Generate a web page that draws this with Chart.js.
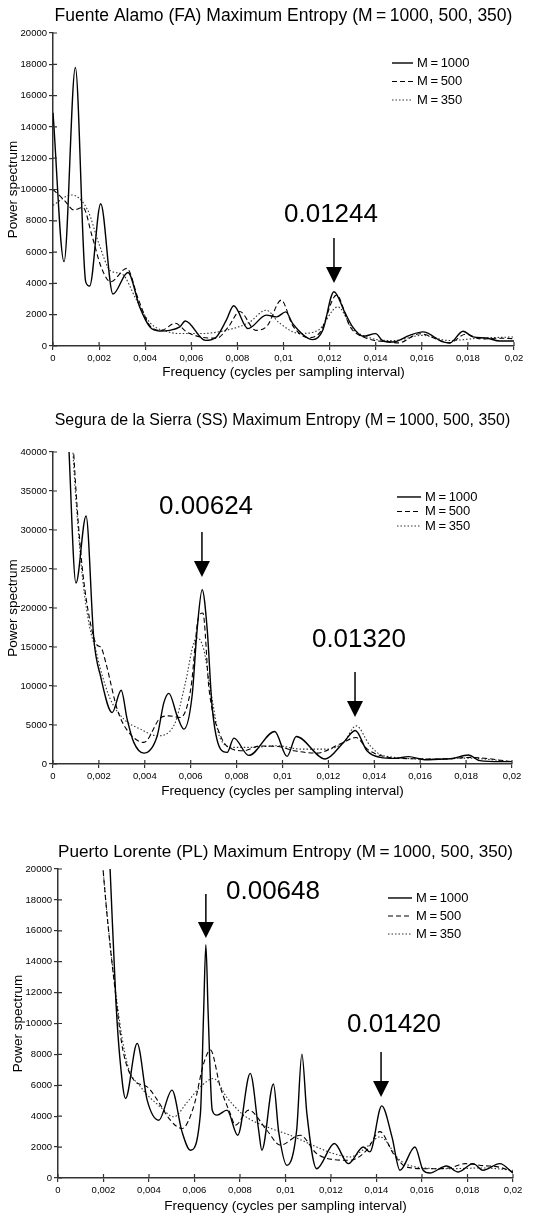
<!DOCTYPE html>
<html>
<head>
<meta charset="utf-8">
<script src="https://cdn.jsdelivr.net/npm/chart.js@4.4.1/dist/chart.umd.min.js"></script>
<style>
  body { margin: 0; background: #fff; }
  canvas { position: absolute; left: 0; }
</style>
</head>
<body>
<canvas id="chartFA" width="534" height="380" style="top:0px"></canvas>
<canvas id="chartSS" width="534" height="402" style="top:398px"></canvas>
<canvas id="chartPL" width="534" height="384" style="top:832px"></canvas>
<script>
// [frequency, power]
var fa1000 = [[0, 14900], [0.00048, 5390], [0.00097, 17800], [0.00142, 4100], [0.00159, 3830], [0.00207, 9090],
  [0.0026, 3320], [0.00325, 4700], [0.00376, 2500], [0.0042, 1220], [0.00463, 960], [0.00506, 1000], [0.0055, 1220],
  [0.00574, 1600], [0.00661, 360], [0.00709, 580], [0.00752, 1650], [0.00784, 2570], [0.00846, 1110], [0.00925, 1970],
  [0.0097, 1860], [0.0101, 2180], [0.0104, 1430], [0.01128, 410], [0.0117, 1000], [0.01219, 3470], [0.01265, 2180],
  [0.013, 1220], [0.01345, 620], [0.014, 790], [0.01432, 320], [0.01475, 260], [0.01547, 680], [0.01605, 900],
  [0.01692, 260], [0.01721, 190], [0.01779, 940], [0.01822, 580], [0.0188, 510], [0.01938, 320], [0.02, 320]];
var fa500 = [[0, 10000], [0.0005, 9300], [0.0009, 8700], [0.0013, 8850], [0.0017, 7000], [0.0021, 5000], [0.0025, 4100],
  [0.0032, 4960], [0.0037, 3000], [0.0042, 1300], [0.0047, 1000], [0.0053, 1450], [0.0058, 900], [0.0064, 580],
  [0.0071, 500], [0.0076, 1200], [0.0081, 2200], [0.0088, 1000], [0.0093, 1300], [0.0099, 2930], [0.0104, 1300],
  [0.0111, 530], [0.0116, 900], [0.0123, 3250], [0.0129, 1200], [0.0136, 500], [0.0146, 250], [0.015, 200],
  [0.0159, 780], [0.0169, 300], [0.0172, 200], [0.0179, 750], [0.0186, 450], [0.0193, 500], [0.02, 470]];
var fa350 = [[0, 9000], [0.0008, 9650], [0.0015, 8700], [0.002, 6500], [0.0025, 4800], [0.003, 4600], [0.0036, 3000],
  [0.0042, 1500], [0.005, 900], [0.0055, 800], [0.0065, 800], [0.0075, 1000], [0.0085, 1500], [0.00925, 2290],
  [0.0098, 1500], [0.0107, 800], [0.0115, 1000], [0.01236, 2500], [0.013, 1100], [0.0138, 500], [0.0148, 350],
  [0.016, 680], [0.0172, 350], [0.0185, 500], [0.02, 580]];

var ss1000 = [[0.0005, 55000], [0.0007, 40000], [0.001, 23200], [0.00144, 31800], [0.00178, 15960], [0.00207, 11280],
  [0.00258, 6600], [0.00297, 9450], [0.00323, 5750], [0.00352, 2770], [0.00396, 1400], [0.00454, 3600], [0.00483, 7870],
  [0.00505, 9060], [0.00541, 6170], [0.0057, 4470], [0.00606, 8720], [0.00628, 17230], [0.0065, 22340], [0.00672, 17230],
  [0.00693, 7450], [0.0073, 1910], [0.00759, 1490], [0.00788, 3320], [0.00853, 1100], [0.00966, 4170], [0.0102, 980],
  [0.0106, 3530], [0.01186, 640], [0.01266, 2770], [0.01317, 4300], [0.01368, 1700], [0.01426, 850], [0.0149, 720],
  [0.01549, 940], [0.0162, 550], [0.0171, 640], [0.0174, 700], [0.0181, 1150], [0.0186, 430], [0.0195, 300], [0.02, 300]];
var ss500 = [[0.0007, 52000], [0.0009, 40000], [0.0011, 31000], [0.0013, 24500], [0.0016, 18500], [0.0019, 15300],
  [0.0021, 14900], [0.0023, 13000], [0.0028, 7000], [0.0032, 4470], [0.00396, 2770], [0.0047, 5960], [0.00505, 6170],
  [0.00555, 5960], [0.006, 9570], [0.00635, 18900], [0.00653, 19360], [0.0068, 9570], [0.0073, 3620], [0.0078, 1910],
  [0.0083, 1700], [0.009, 2300], [0.0098, 2250], [0.0105, 1700], [0.0115, 1400], [0.0126, 2700], [0.0132, 3400],
  [0.0137, 1900], [0.0143, 1060], [0.0152, 720], [0.017, 640], [0.0182, 850], [0.02, 300]];
var ss350 = [[0.0007, 52000], [0.00087, 40000], [0.0011, 30000], [0.0013, 23500], [0.0016, 17500], [0.00185, 14800],
  [0.00207, 12130], [0.0025, 8300], [0.00309, 5740], [0.00381, 4470], [0.00454, 3620], [0.00526, 4890], [0.00577, 10430],
  [0.00613, 15530], [0.00628, 16170], [0.00657, 14680], [0.00686, 9570], [0.0073, 3190], [0.00788, 2130], [0.0087, 2130],
  [0.00976, 2340], [0.0108, 1910], [0.01194, 1910], [0.01266, 2770], [0.01321, 4890], [0.01382, 2340], [0.0144, 1060],
  [0.0166, 640], [0.018, 750], [0.02, 300]];

var pl1000 = [[0.0021, 26000], [0.00229, 20000], [0.00255, 11300], [0.00273, 7600], [0.00297, 5150], [0.00348, 8710],
  [0.00392, 5040], [0.00443, 3740], [0.00501, 5690], [0.00545, 3000], [0.00582, 1800], [0.00626, 4170], [0.0064, 10660],
  [0.0065, 15100], [0.0066, 10660], [0.00678, 4390], [0.00699, 4070], [0.00743, 4390], [0.0079, 2770], [0.00845, 6770],
  [0.00882, 3090], [0.00896, 1800], [0.00947, 6080], [0.0097, 3000], [0.01006, 820], [0.01049, 3090], [0.01072, 8020],
  [0.01094, 4170], [0.01137, 600], [0.01215, 2230], [0.01276, 930], [0.01342, 2010], [0.01371, 1690], [0.01423, 4670],
  [0.01468, 2660], [0.01503, 500], [0.01569, 2010], [0.01605, 500], [0.01634, 320], [0.01708, 780], [0.01759, 390],
  [0.01825, 930], [0.01868, 500], [0.01942, 930], [0.02, 320]];
var pl500 = [[0.0018, 24000], [0.00198, 20000], [0.0026, 11000], [0.00285, 8300], [0.00333, 6340], [0.00392, 5900],
  [0.00437, 5040], [0.00494, 3740], [0.00545, 3200], [0.00596, 4600], [0.0064, 7400], [0.0067, 8280], [0.00713, 5900],
  [0.00757, 4170], [0.0078, 3420], [0.00838, 4390], [0.00918, 3090], [0.00977, 2120], [0.01064, 2770], [0.01137, 1580],
  [0.01211, 1190], [0.01284, 1150], [0.01357, 1800], [0.01415, 3000], [0.01474, 1580], [0.01532, 710], [0.0162, 600],
  [0.0172, 650], [0.0179, 930], [0.0187, 800], [0.0194, 700], [0.02, 400]];
var pl350 = [[0.0018, 24000], [0.00198, 20000], [0.0026, 11300], [0.00304, 7420], [0.00363, 5900], [0.0045, 4600],
  [0.00509, 3960], [0.00567, 4890], [0.00626, 5900], [0.00684, 6440], [0.00743, 5200], [0.00816, 4070], [0.00918, 3310],
  [0.0102, 2770], [0.01137, 2010], [0.01211, 1580], [0.01284, 1360], [0.01357, 2010], [0.01415, 2660], [0.01503, 1150],
  [0.01576, 710], [0.0172, 600], [0.0187, 650], [0.02, 500]];

var seriesLabels = ['M\u2009=\u20091000', 'M\u2009=\u2009500', 'M\u2009=\u2009350'];

// arrows: label text, label position, arrow x and its top / tip (all in data units)
var faPeaks = [{ text: '0.01244', tx: 0.01206, ty: 8370, ax: 0.01219, top: 6900, tip: 4030 }];
var ssPeaks = [{ text: '0.00624', tx: 0.00667, ty: 32950, ax: 0.00649, top: 29740, tip: 23970 },
  { text: '0.01320', tx: 0.01333, ty: 15900, ax: 0.01316, top: 11800, tip: 6030 }];
var plPeaks = [{ text: '0.00648', tx: 0.00945, ty: 18510, ax: 0.0065, top: 18380, tip: 15530 },
  { text: '0.01420', tx: 0.01477, ty: 9900, ax: 0.0142, top: 8155, tip: 5240 }];

Chart.defaults.font.family = "'Liberation Sans', Arial, sans-serif";
Chart.defaults.color = '#000';

var innerTicks = {
  id: 'innerTicks',
  afterDraw: function (chart) {
    var ctx = chart.ctx, a = chart.chartArea;
    ctx.save();
    ctx.strokeStyle = '#333';
    ctx.lineWidth = 1.2;
    ctx.beginPath();
    chart.scales.x.ticks.forEach(function (t) {
      var px = chart.scales.x.getPixelForValue(t.value);
      ctx.moveTo(px, a.bottom); ctx.lineTo(px, a.bottom - 4);
    });
    chart.scales.y.ticks.forEach(function (t) {
      var py = chart.scales.y.getPixelForValue(t.value);
      ctx.moveTo(a.left, py); ctx.lineTo(a.left + 4, py);
    });
    ctx.stroke();
    ctx.restore();
  }
};

var lineLegend = {
  id: 'lineLegend',
  afterDraw: function (chart, args, o) {
    var ctx = chart.ctx, a = chart.chartArea;
    var x = a.right - o.right, y = a.top + o.top;
    ctx.save();
    ctx.font = o.size + "px 'Liberation Sans', Arial, sans-serif";
    ctx.textBaseline = 'middle';
    ctx.fillStyle = '#000';
    chart.data.datasets.forEach(function (ds, i) {
      var yy = y + i * o.gap;
      ctx.beginPath();
      ctx.strokeStyle = ds.borderColor;
      ctx.lineWidth = ds.borderWidth;
      ctx.setLineDash(ds.borderDash || []);
      ctx.moveTo(x, yy); ctx.lineTo(x + o.len, yy);
      ctx.stroke();
      ctx.setLineDash([]);
      ctx.fillText(ds.label, x + o.len + 4, yy);
    });
    ctx.restore();
  }
};

var peakArrows = {
  id: 'peakArrows',
  afterDraw: function (chart, args, o) {
    var ctx = chart.ctx, sx = chart.scales.x, sy = chart.scales.y;
    ctx.save();
    ctx.fillStyle = '#000';
    ctx.strokeStyle = '#000';
    ctx.font = "26px 'Liberation Sans', Arial, sans-serif";
    ctx.textAlign = 'center';
    ctx.textBaseline = 'middle';
    o.items.forEach(function (p) {
      ctx.fillText(p.text, sx.getPixelForValue(p.tx), sy.getPixelForValue(p.ty));
      var x = sx.getPixelForValue(p.ax), y1 = sy.getPixelForValue(p.top), y2 = sy.getPixelForValue(p.tip);
      ctx.lineWidth = 1.5;
      ctx.beginPath();
      ctx.moveTo(x, y1); ctx.lineTo(x, y2 - 14);
      ctx.stroke();
      ctx.beginPath();
      ctx.moveTo(x - 8, y2 - 16); ctx.lineTo(x + 8, y2 - 16); ctx.lineTo(x, y2);
      ctx.closePath();
      ctx.fill();
    });
    ctx.restore();
  }
};

function pts(arr) {
  return arr.map(function (p) { return { x: p[0], y: p[1] }; });
}

function freqLabel(v) {
  if (v === 0) return '0';
  return String(+v.toFixed(4)).replace('.', ',');
}

function makeChart(id, title, data, yMax, yStep, peaks, L) {
  return new Chart(id, {
    type: 'line',
    data: {
      datasets: [
        { label: seriesLabels[0], data: pts(data[0]), borderColor: '#000', borderWidth: 1.4, borderDash: [] },
        { label: seriesLabels[1], data: pts(data[1]), borderColor: '#000', borderWidth: 1.1, borderDash: [5, 3] },
        { label: seriesLabels[2], data: pts(data[2]), borderColor: '#333', borderWidth: 1.1, borderDash: [1.5, 2] }
      ]
    },
    options: {
      responsive: false,
      animation: false,
      elements: { point: { radius: 0 }, line: { cubicInterpolationMode: 'monotone' } },
      layout: { padding: { left: 0, right: L.padRight, top: 0, bottom: 0 } },
      plugins: {
        legend: { display: false },
        tooltip: { enabled: false },
        title: {
          display: true, text: title, color: '#000', fullSize: false,
          font: { size: L.titleSize, weight: 'normal' },
          padding: { top: L.titleTop, bottom: L.titleBottom }
        },
        lineLegend: L.legend,
        peakArrows: { items: peaks }
      },
      scales: {
        x: {
          type: 'linear', min: 0, max: 0.02,
          border: { color: '#333', width: 1.5 },
          grid: { drawOnChartArea: false, tickLength: 4, color: '#333', lineWidth: 1.2 },
          ticks: { stepSize: 0.002, padding: 3, maxRotation: 0, autoSkip: false, font: { size: 9.5 }, color: '#000', callback: freqLabel },
          title: { display: true, text: 'Frequency (cycles per sampling interval)', font: { size: 13.5 }, padding: { top: 0, bottom: L.xTitlePad } },
          afterFit: function (s) { s.height = L.xHeight; }
        },
        y: {
          min: 0, max: yMax,
          border: { color: '#333', width: 1.5 },
          grid: { drawOnChartArea: false, tickLength: 4, color: '#333', lineWidth: 1.2 },
          ticks: { stepSize: yStep, padding: 2, font: { size: 9.5 }, color: '#000', callback: function (v) { return String(v); } },
          title: { display: true, text: 'Power spectrum', font: { size: 13.5 }, padding: { top: L.yTitlePad, bottom: 0 } },
          afterFit: function (s) { s.width = L.yWidth; }
        }
      }
    },
    plugins: [innerTicks, lineLegend, peakArrows]
  });
}

makeChart('chartFA', 'Fuente Alamo (FA) Maximum Entropy (M\u2009=\u20091000, 500, 350)', [fa1000, fa500, fa350], 20000, 2000, faPeaks,
  { padRight: 20, titleSize: 17.5, titleTop: 5.5, titleBottom: 6.5, xHeight: 34, xTitlePad: 0, yWidth: 53, yTitlePad: 5,
    legend: { right: 122, top: 30, gap: 18.5, len: 21, size: 13 } });

makeChart('chartSS', 'Segura de la Sierra (SS) Maximum Entropy (M\u2009=\u20091000, 500, 350)', [ss1000, ss500, ss350], 40000, 5000, ssPeaks,
  { padRight: 22, titleSize: 15.9, titleTop: 13.4, titleBottom: 21.5, xHeight: 36, xTitlePad: 1, yWidth: 53, yTitlePad: 5,
    legend: { right: 115, top: 45, gap: 14.5, len: 24, size: 13 } });

makeChart('chartPL', 'Puerto Lorente (PL) Maximum Entropy (M\u2009=\u20091000, 500, 350)', [pl1000, pl500, pl350], 20000, 2000, plPeaks,
  { padRight: 21, titleSize: 17.4, titleTop: 9.5, titleBottom: 6.6, xHeight: 38, xTitlePad: 1.2, yWidth: 58, yTitlePad: 10,
    legend: { right: 125, top: 29, gap: 18, len: 24, size: 13 } });
</script>
</body>
</html>
